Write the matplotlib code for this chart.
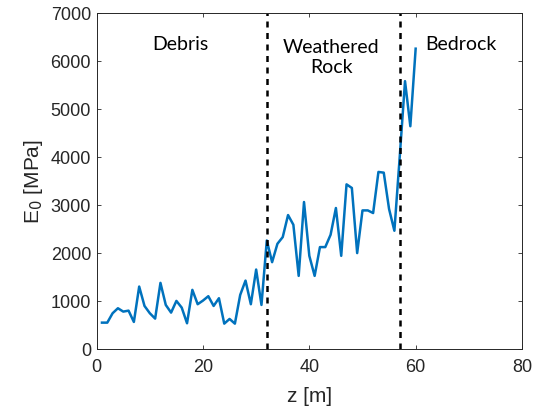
import matplotlib
matplotlib.use("Agg")
import matplotlib.pyplot as plt
import numpy as np

# depth [m] and modulus [MPa]
z = np.arange(1, 61)
E0 = [
    550, 550, 746, 850, 780, 800, 564, 1302, 898, 746,
    634, 1379, 919, 759, 1003, 863, 537, 1233, 934, 1010,
    1101, 898, 1059, 529, 627, 529, 1128, 1427, 934, 1657,
    919, 2263, 1811, 2194, 2334, 2793, 2591, 1525, 3065, 1943,
    1525, 2125, 2125, 2382, 2940, 1943, 3433, 3358, 2000, 2890,
    2890, 2835, 3692, 3677, 2919, 2466, 4000, 5585, 4645, 6262,
]
boundaries = [32, 57]
zone_labels = ["Debris", "Weathered\nRock", "Bedrock"]
zone_x = [15.7, 44.1, 68.5]
zone_y = [6340, 6080, 6340]
xticks = [0, 20, 40, 60, 80]
yticks = [0, 1000, 2000, 3000, 4000, 5000, 6000, 7000]

plt.rcParams["font.family"] = ["Liberation Sans", "DejaVu Sans"]
dark = "#262626"

fig = plt.figure(figsize=(5.34, 4.15), dpi=100)
ax = fig.add_axes([0.181, 0.159, 0.7965, 0.809])

ax.plot(z, E0, color="#0072BD", lw=1.8)
for b in boundaries:
    ax.axvline(b, color="black", lw=1.8, dashes=(2.4, 2.2))

for lab, x, y in zip(zone_labels, zone_x, zone_y):
    ax.text(x, y, lab, ha="center", va="center", fontsize=14,
            family=["Lato", "DejaVu Sans"], color="black", linespacing=1.2)

ax.set_xlim(0, 80)
ax.set_ylim(0, 7000)
ax.set_xticks(xticks)
ax.set_yticks(yticks)
ax.tick_params(direction="in", top=True, right=True, length=3, width=0.6,
               labelsize=13, colors=dark, pad=4)
ax.tick_params(axis="x", pad=7)
for s in ax.spines.values():
    s.set_color(dark)
    s.set_linewidth(0.7)

ax.set_xlabel("z [m]", fontsize=15, color=dark, labelpad=8)
ax.set_ylabel("E$_0$ [MPa]", fontsize=15, color=dark, labelpad=4)

fig.savefig("out.png", dpi=100)
